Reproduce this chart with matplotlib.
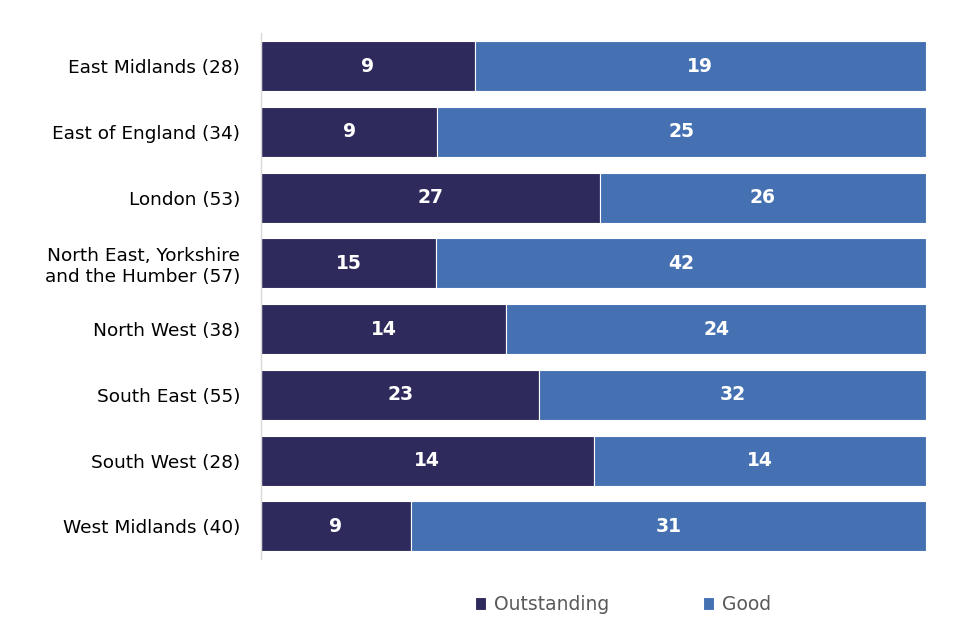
import matplotlib
matplotlib.use("Agg")
import matplotlib.pyplot as plt
import numpy as np

categories = ["East Midlands (28)", "East of England (34)", "London (53)",
              "North East, Yorkshire\nand the Humber (57)", "North West (38)",
              "South East (55)", "South West (28)", "West Midlands (40)"]
outstanding = [9, 9, 27, 15, 14, 23, 14, 9]
good = [19, 25, 26, 42, 24, 32, 14, 31]

c_out = "#2E2A5C"
c_good = "#4571B3"

plt.rcParams['font.family'] = ['DejaVu Sans']
fig = plt.figure(figsize=(9.6, 6.4), dpi=100)
ax = fig.add_axes([0.272, 0.126, 0.6926, 0.822])

out = np.array(outstanding, float)
gd = np.array(good, float)
tot = out + gd
po = out / tot * 100
pg = gd / tot * 100
y = np.arange(len(categories))

b1 = ax.barh(y, po, height=0.76, color=c_out, edgecolor="white", linewidth=0.8, label="Outstanding")
b2 = ax.barh(y, pg, left=po, height=0.76, color=c_good, edgecolor="white", linewidth=0.8, label="Good")

for i in range(len(y)):
    ax.text(po[i] / 2, y[i], str(outstanding[i]), ha="center", va="center",
            color="white", fontsize=13.5, fontweight="bold")
    ax.text(po[i] + pg[i] / 2, y[i], str(good[i]), ha="center", va="center",
            color="white", fontsize=13.5, fontweight="bold")

ax.set_xlim(0, 100)
ax.set_ylim(len(categories) - 0.5, -0.5)
ax.set_yticks(y)
ax.set_yticklabels(categories, fontsize=13.3, color="#000000")
ax.tick_params(axis="y", length=0, pad=15)
ax.set_xticks([])
for s in ["top", "right", "bottom"]:
    ax.spines[s].set_visible(False)
ax.spines["left"].set_color("#D9D9D9")
ax.spines["left"].set_linewidth(1)

leg = fig.legend(handles=[b1, b2], labels=["Outstanding", "Good"], loc="center",
                 bbox_to_anchor=(0.649, 0.056), ncol=2, frameon=False,
                 fontsize=13.5, handlelength=0.6, handleheight=0.7,
                 handletextpad=0.4, columnspacing=5.0)
for t in leg.get_texts():
    t.set_color("#595959")

fig.savefig("out.png", dpi=100)
